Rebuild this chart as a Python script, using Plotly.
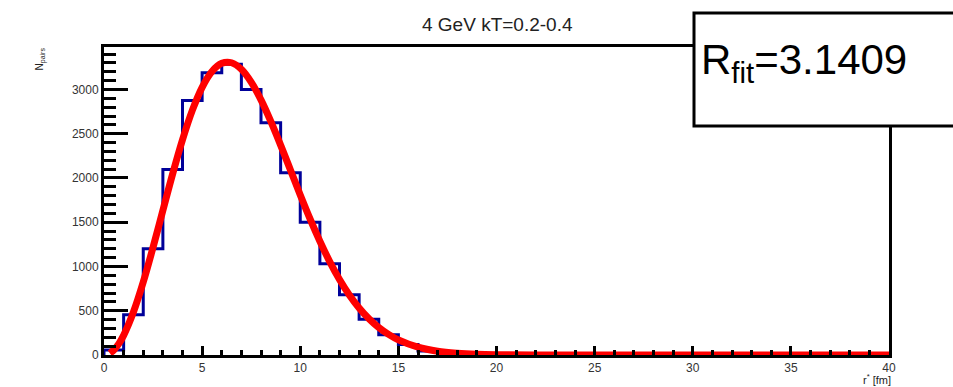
import plotly.graph_objects as go

# Histogram: bin edges 0..40 (width 1), counts
bin_edges = list(range(0, 41))
counts = [57, 455, 1200, 2095, 2875, 3190, 3285, 3000, 2625, 2060,
          1500, 1030, 680, 405, 228, 120, 45, 18, 6, 2,
          1, 0, 0, 0, 0, 0, 0, 0, 0, 0,
          0, 0, 0, 0, 0, 0, 0, 0, 0, 0]

# Fit curve samples
fit_x = [0.3, 0.5, 0.75, 1, 1.5, 2, 2.5, 3, 3.5, 4, 4.5, 5, 5.5, 6, 6.5, 7, 7.5,
         8, 8.5, 9, 9.5, 10, 10.5, 11, 11.5, 12, 12.5, 13, 13.5, 14, 14.5, 15,
         16, 17, 18, 19, 20, 22, 25, 30, 40]
fit_y = [20, 57, 126, 222, 485, 824, 1217, 1634, 2048, 2432, 2764, 3025, 3204,
         3296, 3302, 3228, 3083, 2882, 2639, 2371, 2091, 1808, 1538, 1286, 1056,
         854, 679, 532, 410, 311, 233, 171, 89, 43, 20, 8, 3, 0.5, 0, 0, 0]

title_text = "4 GeV kT=0.2-0.4"
fit_label = "R<sub>fit</sub>=3.1409"
x_title = "r<sup>*</sup> [fm]"
y_title = "N<sub>pairs</sub>"
y_ticks = [0, 500, 1000, 1500, 2000, 2500, 3000]
x_ticks = [0, 5, 10, 15, 20, 25, 30, 35, 40]

FONT = "Liberation Sans, Arial, sans-serif"

step_x = [bin_edges[0]] + bin_edges
step_y = [0] + counts + [counts[-1]]

fig = go.Figure()
fig.add_trace(go.Scatter(x=step_x, y=step_y, mode="lines", line_shape="hv",
                         line=dict(color="#000099", width=3), hoverinfo="skip"))
fig.add_trace(go.Scatter(x=fit_x, y=fit_y, mode="lines", line_shape="spline",
                         line=dict(color="#ff0000", width=7), hoverinfo="skip"))

W, H = 953, 387
PL, PR, PT, PB = 104, 889, 47, 355        # plot frame in page pixels
L, T, R, B = PL, PT, W - PR, H - PB
pw, ph = W - L - R, H - T - B

def px(x):
    return (x - L) / pw

def py(y):
    return (H - B - y) / ph

fig.update_layout(
    width=W, height=H, showlegend=False,
    margin=dict(l=L, r=R, t=T, b=B),
    paper_bgcolor="white", plot_bgcolor="white",
    font=dict(family=FONT, color="#333333"),
    xaxis=dict(range=[0, 40], tickvals=x_ticks, ticks="inside", ticklen=9,
               tickwidth=3, tickcolor="black",
               minor=dict(dtick=1, ticks="inside", ticklen=5, tickwidth=3, tickcolor="black"),
               showline=True, linewidth=3, linecolor="black", mirror=True,
               showgrid=False, zeroline=False, tickfont=dict(size=12, color="#333333")),
    yaxis=dict(range=[0, 3480], tickvals=y_ticks, ticks="inside", ticklen=24,
               tickwidth=3, tickcolor="black",
               minor=dict(dtick=100, ticks="inside", ticklen=12, tickwidth=3, tickcolor="black"),
               showline=True, linewidth=3, linecolor="black", mirror=True,
               showgrid=False, zeroline=False, tickfont=dict(size=12, color="#333333")),
    shapes=[dict(type="rect", xref="paper", yref="paper",
                 x0=px(694), x1=px(1100), y0=py(126), y1=py(13),
                 line=dict(color="black", width=3), fillcolor="white", layer="above")],
    annotations=[
        dict(text=title_text, xref="paper", yref="paper", x=px(497), y=py(24),
             showarrow=False, font=dict(size=19, color="#222222"),
             xanchor="center", yanchor="middle"),
        dict(text=fit_label, xref="paper", yref="paper", x=px(699), y=py(62),
             showarrow=False, font=dict(size=42, color="black"),
             xanchor="left", yanchor="middle"),
        dict(text=y_title, xref="paper", yref="paper", x=px(40), y=py(46),
             showarrow=False, textangle=-90, font=dict(size=10, color="#222222"),
             xanchor="center", yanchor="top"),
        dict(text=x_title, xref="paper", yref="paper", x=px(893), y=py(379),
             showarrow=False, font=dict(size=11, color="#222222"),
             xanchor="right", yanchor="middle"),
    ],
)

fig.write_html("out.html", config={"displayModeBar": False},
               post_script="document.body.style.margin='0';document.body.style.overflow='hidden';")
